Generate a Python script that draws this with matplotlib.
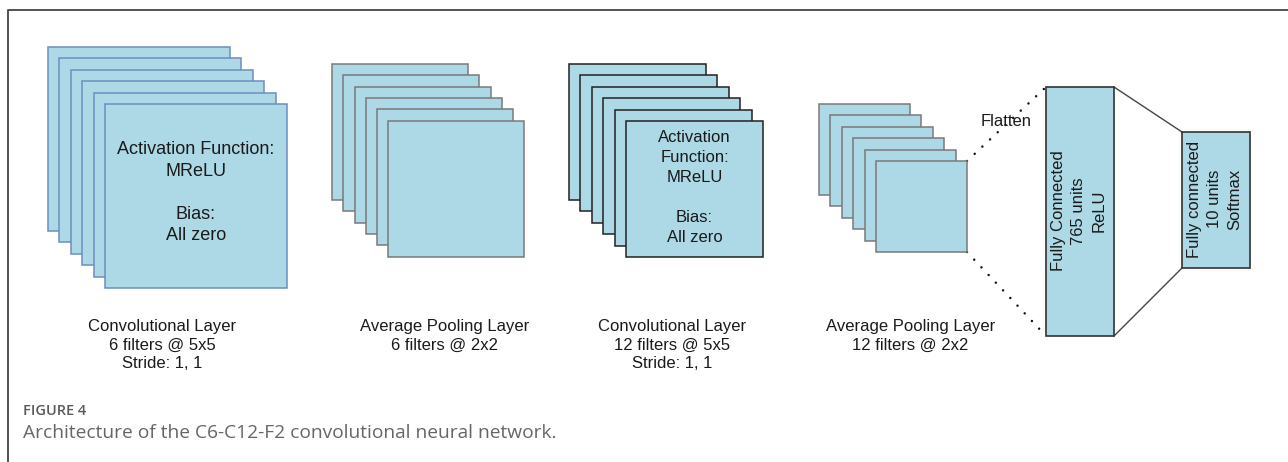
import matplotlib
matplotlib.use("Agg")
import matplotlib.pyplot as plt
from matplotlib.patches import Rectangle

# ---------------- data (text content) ----------------
layer_titles = ["Convolutional Layer", "Average Pooling Layer",
                "Convolutional Layer", "Average Pooling Layer"]
layer_specs = ["6 filters @ 5x5", "6 filters @ 2x2",
               "12 filters @ 5x5", "12 filters @ 2x2"]
layer_strides = ["Stride: 1, 1", "", "Stride: 1, 1", ""]
stack_counts = [6, 6, 6, 6]
inner_text_1 = ["Activation Function:", "MReLU", "", "Bias:", "All zero"]
inner_text_3 = ["Activation", "Function:", "MReLU", "", "Bias:", "All zero"]
fc1_lines = ["Fully Connected", "765 units", "ReLU"]
fc2_lines = ["Fully connected", "10 units", "Softmax"]
flatten_label = "Flatten"
fig_label = "FIGURE 4"
caption = "Architecture of the C6-C12-F2 convolutional neural network."

# ---------------- layout / style ----------------
FILL = "#add8e6"
FONT = "Liberation Sans"
TXT = "#1a1a1a"
# first rect x, first rect y, width, height, stack offset, edge colour
stacks = [
    (48, 47, 182, 184, 11.4, "#6c8ebf"),
    (332, 64, 136, 136, 11.3, "#7a7a7a"),
    (569, 64, 137, 136, 11.4, "#222222"),
    (819, 104, 91, 91, 11.4, "#7a7a7a"),
]
label_cx = [162.5, 445, 672, 910.5]
label_y0 = 326
label_dy = 19

fig = plt.figure(figsize=(12.88, 4.62), dpi=100)
ax = fig.add_axes([0, 0, 1, 1])
ax.set_xlim(0, 1288)
ax.set_ylim(462, 0)
ax.axis("off")

# frame
ax.plot([8, 8, 1288], [462, 10, 10], color="#444444", lw=1.3, solid_capstyle="butt")

# stacks
for (x0, y0, w, h, off, ec), n in zip(stacks, stack_counts):
    for i in range(n):
        ax.add_patch(Rectangle((x0 + i * off, y0 + i * off), w, h,
                               facecolor=FILL, edgecolor=ec, lw=1.1, zorder=2 + i))

# inner texts
def stack_lines(lines, cx, cy, dy, fs):
    n = len(lines)
    for k, s in enumerate(lines):
        if s:
            ax.text(cx, cy + (k - (n - 1) / 2) * dy, s, ha="center", va="center",
                    fontsize=fs, family=FONT, color=TXT, zorder=20)

stack_lines(inner_text_1, 196, 193, 21.5, 13)
stack_lines(inner_text_3, 694.5, 187.5, 20, 12)

# labels below
for cx, t, s, st in zip(label_cx, layer_titles, layer_specs, layer_strides):
    for k, line in enumerate([t, s, st]):
        if line:
            ax.text(cx, label_y0 + k * label_dy, line, ha="center", va="center",
                    fontsize=12, family=FONT, color=TXT)

# flatten dotted lines
x4, y4, w4, h4, o4, _ = stacks[3]
lx = x4 + 5 * o4 + w4
ty = y4 + 5 * o4
by = ty + h4
fc1 = (1046, 87, 68, 249)
fc2 = (1182, 132, 68, 136)
for ya, yb in [(ty, fc1[1]), (by, fc1[1] + fc1[3])]:
    ax.plot([lx, fc1[0]], [ya, yb], color="#111111", lw=1.8,
            linestyle=(0, (0.01, 4.2)), dash_capstyle="round")
ax.text(1006.5, 122, flatten_label, ha="center", va="center",
        fontsize=12, family=FONT, color=TXT)

# fully connected boxes
for (x, y, w, h) in [fc1, fc2]:
    ax.add_patch(Rectangle((x, y), w, h, facecolor=FILL, edgecolor="#333333",
                           lw=1.2, zorder=3))
ax.plot([fc1[0] + fc1[2], fc2[0]], [fc1[1], fc2[1]], color="#444444", lw=1.0)
ax.plot([fc1[0] + fc1[2], fc2[0]], [fc1[1] + fc1[3], fc2[1] + fc2[3]],
        color="#444444", lw=1.0)

def rot_lines(lines, cx, cy, dx):
    n = len(lines)
    for k, s in enumerate(lines):
        ax.text(cx + (k - (n - 1) / 2) * dx, cy, s, ha="center", va="center",
                rotation=90, fontsize=12, family=FONT, color=TXT, zorder=10)

rot_lines(fc1_lines, 1079, 211, 20.5)
rot_lines(fc2_lines, 1215, 199, 20)

# caption
ax.text(23, 411, fig_label, ha="left", va="center", fontsize=10.5,
        family="Open Sans", fontweight="semibold", color="#5a5a5a")
ax.text(23, 433, caption, ha="left", va="center", fontsize=13.8,
        family="Open Sans", color="#666666")

fig.savefig("out.png", dpi=100)
